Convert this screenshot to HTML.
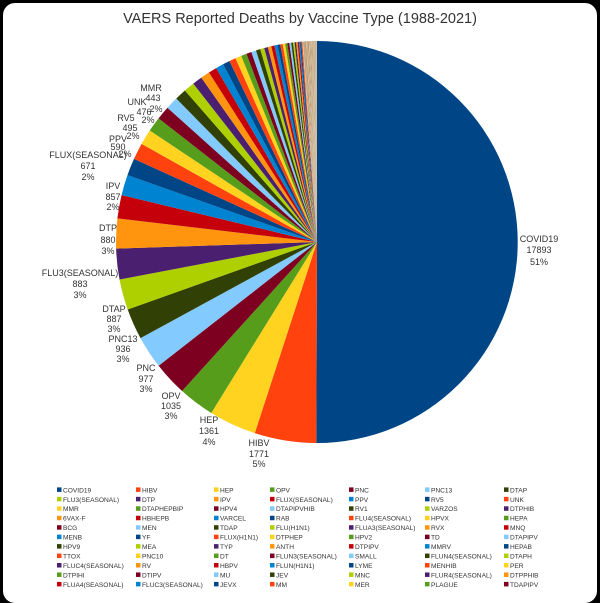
<!DOCTYPE html>
<html><head><meta charset="utf-8"><style>
html,body{margin:0;padding:0;background:#000;width:600px;height:589px;overflow:hidden}
#card{position:absolute;left:3px;top:3px;width:594px;height:600px;background:#fff;border-radius:12px}
svg{position:absolute;left:0;top:0}
text{font-family:"Liberation Sans",sans-serif;fill:#333}
</style></head><body>
<div id="card"></div>
<svg id="s" width="600" height="589" xmlns="http://www.w3.org/2000/svg">
<text x="300" y="23" font-size="14.5" text-anchor="middle" fill="#333">VAERS Reported Deaths by Vaccine Type (1988-2021)</text>
<g id="pie"></g>
<g id="lab" font-size="9" text-anchor="middle">
<text x="539" y="242">COVID19</text><text x="539" y="253">17893</text><text x="539" y="265">51%</text>
<text x="259" y="446">HIBV</text><text x="259" y="457">1771</text><text x="259" y="467">5%</text>
<text x="209" y="423">HEP</text><text x="209" y="434">1361</text><text x="209" y="445">4%</text>
<text x="171" y="399">OPV</text><text x="171" y="409">1035</text><text x="171" y="419">3%</text>
<text x="146" y="371">PNC</text><text x="146" y="382">977</text><text x="146" y="392">3%</text>
<text x="123" y="342">PNC13</text><text x="123" y="352">936</text><text x="123" y="362">3%</text>
<text x="114" y="312">DTAP</text><text x="114" y="322">887</text><text x="114" y="332">3%</text>
<text x="80" y="276">FLU3(SEASONAL)</text><text x="80" y="287">883</text><text x="80" y="298">3%</text>
<text x="108" y="231">DTP</text><text x="108" y="243">880</text><text x="108" y="254">3%</text>
<text x="113" y="189">IPV</text><text x="113" y="200">857</text><text x="113" y="210">2%</text>
<text x="88" y="158">FLUX(SEASONAL)</text><text x="88" y="169">671</text><text x="88" y="180">2%</text>
<text x="118" y="142">PPV</text><text x="118" y="150">590</text><text x="125" y="157">2%</text>
<text x="126" y="121">RV5</text><text x="130" y="131">495</text><text x="133" y="139">2%</text>
<text x="137" y="105">UNK</text><text x="144" y="115">476</text><text x="148" y="123">2%</text>
<text x="151" y="91">MMR</text><text x="153" y="101">443</text><text x="156" y="112">2%</text>
</g>
<g id="leg" font-size="6.6"></g>
</svg>
<script>
var names=["COVID19","HIBV","HEP","OPV","PNC","PNC13","DTAP","FLU3(SEASONAL)","DTP","IPV","FLUX(SEASONAL)","PPV","RV5","UNK","MMR","DTAPHEPBIP","HPV4","DTAPIPVHIB","RV1","VARZOS","DTPHIB","6VAX-F","HBHEPB","VARCEL","RAB","FLU4(SEASONAL)","HPVX","HEPA","BCG","MEN","TDAP","FLU(H1N1)","FLUA3(SEASONAL)","RVX","MNQ","MENB","YF","FLUX(H1N1)","DTPHEP","HPV2","TD","DTAPIPV","HPV9","MEA","TYP","ANTH","DTPIPV","MMRV","HEPAB","TTOX","PNC10","DT","FLUN3(SEASONAL)","SMALL","FLUN4(SEASONAL)","DTAPH","FLUC4(SEASONAL)","RV","HBPV","FLUN(H1N1)","LYME","MENHIB","PER","DTPIHI","DTIPV","MU","JEV","MNC","FLUR4(SEASONAL)","DTPPHIB","FLUA4(SEASONAL)","FLUC3(SEASONAL)","JEVX","MM","MER","PLAGUE","TDAPIPV"];
var vals=[17893,1771,1361,1035,977,936,887,883,880,857,671,590,495,476,443];
for(var i=15;i<names.length;i++){vals.push(420*Math.pow(0.92,i-15)+6);}
var pal=["#004586","#ff420e","#ffd320","#579d1c","#7e0021","#83caff","#314004","#aecf00","#4b1f6f","#ff950e","#c5000b","#0084d1"];
var tan=["#c9a97c","#a88a66","#d8c09a","#b79870"];
var tot=vals.reduce(function(a,b){return a+b},0);
var cx=317,cy=242,r=201,a=0,h="";
for(var i=0;i<vals.length;i++){
 var a2=a+vals[i]/tot*2*Math.PI;
 var x1=cx+r*Math.sin(a),y1=cy-r*Math.cos(a),x2=cx+r*Math.sin(a2),y2=cy-r*Math.cos(a2);
 var lg=(a2-a)>Math.PI?1:0;
 var col=i>=50?tan[i%4]:pal[i%12];
 h+='<path d="M'+cx+','+cy+' L'+x1.toFixed(2)+','+y1.toFixed(2)+' A'+r+','+r+' 0 '+lg+' 1 '+x2.toFixed(2)+','+y2.toFixed(2)+' Z" fill="'+col+'"/>';
 a=a2;
}
document.getElementById("pie").innerHTML=h;
var cols=[57,136,214,270,349,425,504],g="";
for(var i=0;i<names.length;i++){
 var c=i%7,rw=Math.floor(i/7),x=cols[c],y=490+rw*9.45;
 g+='<rect x="'+x+'" y="'+(y-2.6)+'" width="4.5" height="4.5" fill="'+pal[i%12]+'"/>';
 g+='<text x="'+(x+6)+'" y="'+(y+2.3)+'" fill="#555">'+names[i]+'</text>';
}
document.getElementById("leg").innerHTML=g;
</script>
</body></html>
